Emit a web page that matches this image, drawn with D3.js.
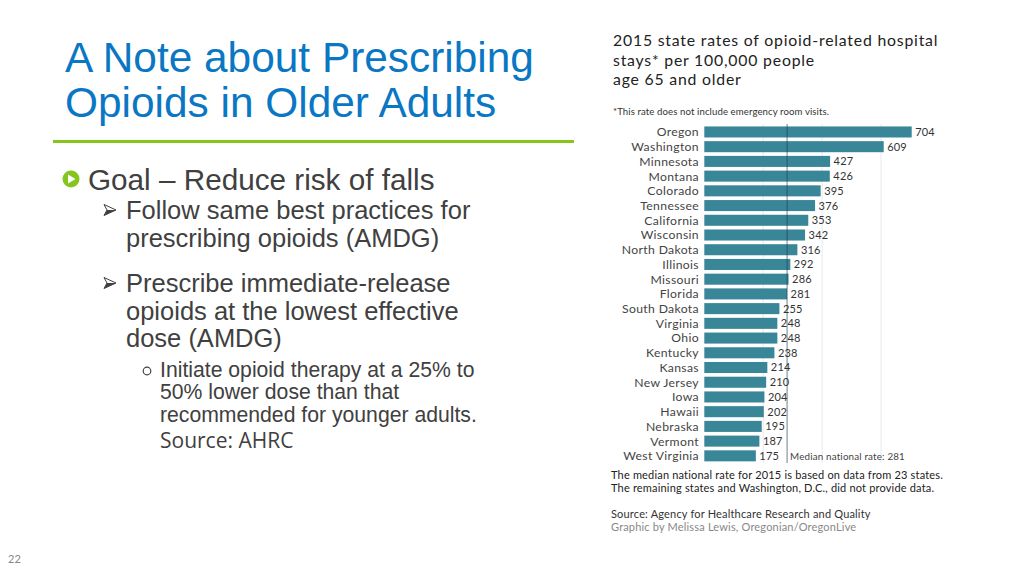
<!DOCTYPE html>
<html><head><meta charset="utf-8">
<script src="https://cdn.jsdelivr.net/npm/d3@7"></script>
<style>body{margin:0;background:#fff;overflow:hidden}</style>
</head><body>
<svg id="s" width="1024" height="576"></svg>
<script>
const states = ["Oregon","Washington","Minnesota","Montana","Colorado","Tennessee","California","Wisconsin","North Dakota","Illinois","Missouri","Florida","South Dakota","Virginia","Ohio","Kentucky","Kansas","New Jersey","Iowa","Hawaii","Nebraska","Vermont","West Virginia"];
const rates = [704,609,427,426,395,376,353,342,316,292,286,281,255,248,248,238,214,210,204,202,195,187,175];
const medianRate = 281;
const gridTicks = [200,400,600];
const chartTitle = ["2015 state rates of opioid-related hospital","stays* per 100,000 people","age 65 and older"];
const footnote = "*This rate does not include emergency room visits.";
const notes = ["The median national rate for 2015 is based on data from 23 states.","The remaining states and Washington, D.C., did not provide data."];
const sourceLine = "Source: Agency for Healthcare Research and Quality";
const creditLine = "Graphic by Melissa Lewis, Oregonian/OregonLive";
const slideTitle = ["A Note about Prescribing","Opioids in Older Adults"];
const bullet1 = "Goal \u2013 Reduce risk of falls";
const sub1 = ["Follow same best practices for","prescribing opioids (AMDG)"];
const sub2 = ["Prescribe immediate-release","opioids at the lowest effective","dose (AMDG)"];
const subsub = ["Initiate opioid therapy at a 25% to","50% lower dose than that","recommended for younger adults."];
const sourceAHRC = "Source: AHRC";
const pageNum = "22";

const svg = d3.select("#s");
const body = "#404040";
const arial = "'Liberation Sans', Arial, sans-serif";
const cf = "Lato, 'Open Sans', sans-serif";

// ---- Slide left side ----
svg.selectAll("text.ttl").data(slideTitle).join("text")
  .attr("x", 65).attr("y", (d,i)=>72 + i*45)
  .attr("font-family", arial).attr("font-size", 42.4).attr("fill", "#0a77c4").text(d=>d);
svg.append("rect").attr("x", 53).attr("y", 140).attr("width", 521).attr("height", 3).attr("fill", "#86c41e");

// green play bullet
svg.append("circle").attr("cx", 71).attr("cy", 179).attr("r", 8.5).attr("fill", "#86c41e");
svg.append("path").attr("d", "M68,174.5 L75.5,179 L68,183.5 Z").attr("fill", "#fff");
svg.append("text").attr("x", 88).attr("y", 189.5).attr("font-family", arial).attr("font-size", 29.7).attr("fill", body).text(bullet1);

function arrow(y){
  svg.append("path").attr("d", `M104,${y} L116,${y} L104,${y+5.5} L107,${y} Z`)
    .attr("fill", body);
  svg.append("path").attr("d", `M104,${y-5.5} L116,${y} L104,${y+5.5} L107,${y} Z`)
    .attr("fill", "none").attr("stroke", body).attr("stroke-width", 1).attr("stroke-linejoin","round");
}
arrow(210);
svg.selectAll("text.s1").data(sub1).join("text")
  .attr("x", 126).attr("y", (d,i)=>219 + i*28)
  .attr("font-family", arial).attr("font-size", 25.5).attr("fill", body).text(d=>d);
arrow(283);
svg.selectAll("text.s2").data(sub2).join("text")
  .attr("x", 126).attr("y", (d,i)=>292 + i*27.5)
  .attr("font-family", arial).attr("font-size", 25.5).attr("fill", body).text(d=>d);
svg.append("circle").attr("cx", 147).attr("cy", 371).attr("r", 3.8).attr("fill","none").attr("stroke", body).attr("stroke-width", 1.2);
svg.selectAll("text.s3").data(subsub).join("text")
  .attr("x", 160).attr("y", (d,i)=>376.5 + i*22.5)
  .attr("font-family", arial).attr("font-size", 21.2).attr("fill", body).text(d=>d);
svg.append("text").attr("x", 160).attr("y", 447.5).attr("font-family", "'Open Sans', sans-serif").attr("font-size", 21).attr("fill", body).text(sourceAHRC);
svg.append("text").attr("x", 8).attr("y", 563).attr("font-family", cf).attr("font-size", 11).attr("fill", "#888").text(pageNum);

// ---- Chart ----
const x = d3.scaleLinear().domain([0, 704]).range([704.3, 911.7]);
const y = d3.scaleBand().domain(states).range([124.6, 463.2]).paddingInner(0.25).paddingOuter(0.125);

svg.selectAll("text.ct").data(chartTitle).join("text")
  .attr("x", 613).attr("y", (d,i)=>46 + i*19.6)
  .attr("font-family", cf).attr("font-size", 15.8).attr("letter-spacing", 0.8).attr("fill", "#222").text(d=>d);
svg.append("text").attr("x", 613).attr("y", 115).attr("font-family", cf).attr("font-size", 9.6).attr("letter-spacing", 0.1).attr("fill", "#333").text(footnote);

const yTop = 124, yBot = 463;
svg.selectAll("line.grid").data(gridTicks).join("line")
  .attr("x1", d=>x(d)).attr("x2", d=>x(d)).attr("y1", yTop).attr("y2", yBot)
  .attr("stroke", "#e9e9e9").attr("stroke-width", 1);

svg.selectAll("rect.bar").data(rates).join("rect")
  .attr("x", x(0)).attr("y", (d,i)=>y(states[i]))
  .attr("width", d=>x(d)-x(0)).attr("height", y.bandwidth())
  .attr("fill", "#3a8699");

svg.append("line").attr("x1", x(medianRate)).attr("x2", x(medianRate)).attr("y1", yTop).attr("y2", yBot)
  .attr("stroke", "#1f3f48").attr("stroke-opacity", 0.65).attr("stroke-width", 1);

svg.selectAll("text.st").data(states).join("text")
  .attr("x", 699).attr("y", d=>y(d)+y.bandwidth()/2).attr("dy", "0.36em")
  .attr("text-anchor", "end").attr("font-family", cf).attr("font-size", 12.2).attr("letter-spacing", 0.35).attr("fill", "#444").text(d=>d);
svg.selectAll("text.val").data(rates).join("text")
  .attr("x", d=>x(d)+3.5).attr("y", (d,i)=>y(states[i])+y.bandwidth()/2).attr("dy", "0.36em")
  .attr("font-family", cf).attr("font-size", 11).attr("letter-spacing", 0.2).attr("fill", "#333").text(d=>d);

svg.append("text").attr("x", x(medianRate)+3).attr("y", 460).attr("font-family", cf).attr("font-size", 9.8).attr("letter-spacing", 0.17).attr("fill", "#444")
  .text("Median national rate: " + medianRate);

svg.selectAll("text.nt").data(notes).join("text")
  .attr("x", 611).attr("y", (d,i)=>478.5 + i*13)
  .attr("font-family", cf).attr("font-size", 11).attr("letter-spacing", 0.18).attr("fill", "#222").text(d=>d);
svg.append("text").attr("x", 611).attr("y", 517.5).attr("font-family", cf).attr("font-size", 11).attr("letter-spacing", 0.18).attr("fill", "#333").text(sourceLine);
svg.append("text").attr("x", 611).attr("y", 531).attr("font-family", cf).attr("font-size", 11).attr("letter-spacing", 0.18).attr("fill", "#888").text(creditLine);
</script>
</body></html>
